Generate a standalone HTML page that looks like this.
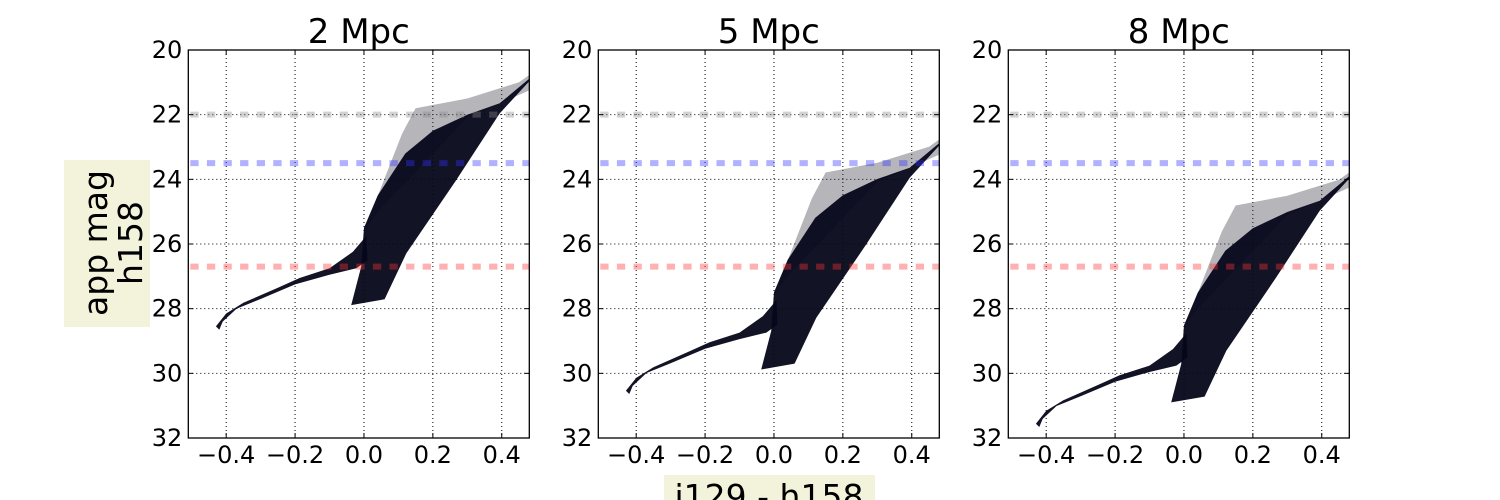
<!DOCTYPE html>
<html><head><meta charset="utf-8"><style>
body{margin:0;background:#fff;width:1500px;height:500px;overflow:hidden}
svg{display:block}
text{font-family:"DejaVu Sans","Liberation Sans",sans-serif}
</style></head><body>
<svg id="chart" width="1500" height="500" viewBox="0 0 1500 500" xmlns="http://www.w3.org/2000/svg">
<rect x="64" y="160" width="86" height="167" fill="#f3f3dc"/>
<text transform="translate(96,243) rotate(-90)" text-anchor="middle" font-size="33" dy="11">app mag</text>
<text transform="translate(131,243) rotate(-90)" text-anchor="middle" font-size="33" dy="11">h158</text>
<rect x="664" y="475" width="211" height="30" fill="#f3f3dc"/>
<text x="769" y="508" text-anchor="middle" font-size="33">i129 - h158</text>
</svg>
<script>
const panelTitles = ["2 Mpc", "5 Mpc", "8 Mpc"];
const magOffsets = [0, 1.99, 3.01];
const limitMags = [22.0, 23.5, 26.7];
const limitColors = ["#888888", "#3333ff", "#ff3333"];
const xTicks = [-0.4, -0.2, 0.0, 0.2, 0.4];
const xTickLabels = ["\u22120.4", "\u22120.2", "0.0", "0.2", "0.4"];
const yTicks = [20, 22, 24, 26, 28, 30, 32];
const yTickLabels = ["20", "22", "24", "26", "28", "30", "32"];
// shape of the distribution at 2 Mpc: [color, magnitude]
const bodyColor = [-0.037, 0.060, 0.123, 0.268, 0.394, 0.49, 0.49, 0.394, 0.30, 0.20, 0.12, 0.04, 0.0, -0.008];
const bodyMag = [27.89, 27.71, 26.29, 24.02, 21.96, 20.85, 20.80, 21.65, 22.0, 22.5, 23.2, 24.5, 25.5, 26.7];
const tailColor = [-0.43, -0.40, -0.35, -0.25, -0.187, -0.10, -0.032, 0.007, 0.01, -0.022, -0.10, -0.20, -0.30, -0.37, -0.41, -0.42];
const tailMag = [28.55, 28.15, 27.82, 27.35, 27.05, 26.75, 26.24, 25.75, 26.5, 26.75, 26.95, 27.25, 27.7, 28.0, 28.4, 28.65];
const fringeColor = [0.0, 0.11, 0.15, 0.30, 0.45, 0.49, 0.49, 0.30, 0.04];
const fringeMag = [25.6, 22.6, 21.8, 21.5, 21.0, 20.7, 21.2, 22.1, 25.0];

const NS = "http://www.w3.org/2000/svg";
const svg = document.getElementById("chart");
const X0 = -0.51, X1 = 0.48, Y0 = 20, Y1 = 32;
const PW = 341, PT = 50, PB = 438;
const panelLefts = [188.3, 598.3, 1008.3];
function mk(tag, attrs, parent) {
  const e = document.createElementNS(NS, tag);
  for (const k in attrs) e.setAttribute(k, attrs[k]);
  (parent || svg).appendChild(e);
  return e;
}
panelTitles.forEach((title, p) => {
  const L = panelLefts[p];
  const sx = v => L + (v - X0) / (X1 - X0) * PW;
  const sy = v => PT + (v - Y0) / (Y1 - Y0) * (PB - PT);
  const g = mk("g", {});
  
  
  const cid = "clip" + p;
  const cp = mk("clipPath", {id: cid}, g);
  mk("rect", {x: L, y: PT, width: PW, height: PB - PT}, cp);
  xTicks.forEach(t => {
    const l = mk("line", {x1: sx(t), x2: sx(t), y1: PT, y2: PB, stroke: "#000", "stroke-width": 1, "stroke-dasharray": "1,3"}, g);
    
    
  });
  yTicks.forEach(t => {
    const l = mk("line", {x1: L, x2: L + PW, y1: sy(t), y2: sy(t), stroke: "#000", "stroke-width": 1, "stroke-dasharray": "1,3"}, g);
    
    
  });
  const data = mk("g", {"clip-path": "url(#" + cid + ")"}, g);
  const off = magOffsets[p];
  function poly(cs, ms, fill, op, name) {
    const pts = cs.map((c, i) => sx(c).toFixed(1) + "," + sy(ms[i] + off).toFixed(1)).join(" ");
    const e = mk("polygon", {points: pts, fill: fill, "fill-opacity": op}, data);
    
    
  }
  poly(fringeColor, fringeMag, "#2a2a3a", 0.35, "scatter-fringe");
  poly(bodyColor, bodyMag, "#06061a", 0.95, "scatter-body");
  poly(tailColor, tailMag, "#06061a", 0.95, "scatter-tail");
  limitMags.forEach((m, i) => {
    const l = mk("line", {x1: L, x2: L + PW, y1: sy(m), y2: sy(m), stroke: limitColors[i], "stroke-opacity": 0.38, "stroke-width": 6, "stroke-dasharray": "8.3,8.3", "stroke-dashoffset": -2}, data);
    
    
  });
  const fr = mk("rect", {x: L, y: PT, width: PW, height: PB - PT, fill: "none", stroke: "#000", "stroke-width": 1.3}, g);
  
  
  xTicks.forEach((t, i) => {
    mk("line", {x1: sx(t), x2: sx(t), y1: PB, y2: PB - 5, stroke: "#000"}, g);
    mk("line", {x1: sx(t), x2: sx(t), y1: PT, y2: PT + 5, stroke: "#000"}, g);
    const tx = mk("text", {x: sx(t), y: PB + 25, "text-anchor": "middle", "font-size": 24}, g);
    tx.textContent = xTickLabels[i];
    
    
  });
  yTicks.forEach((t, i) => {
    mk("line", {x1: L, x2: L + 5, y1: sy(t), y2: sy(t), stroke: "#000"}, g);
    mk("line", {x1: L + PW, x2: L + PW - 5, y1: sy(t), y2: sy(t), stroke: "#000"}, g);
    const ty = mk("text", {x: L - 6, y: sy(t) + 8, "text-anchor": "end", "font-size": 24}, g);
    ty.textContent = yTickLabels[i];
    
    
  });
  const tt = mk("text", {x: L + PW / 2, y: 43, "text-anchor": "middle", "font-size": 34}, g);
  tt.textContent = title;
  
  
});
</script>
</body></html>
